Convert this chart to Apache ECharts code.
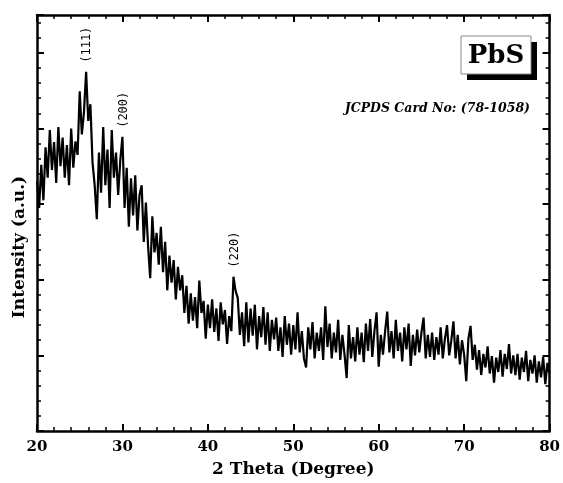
<!DOCTYPE html>
<html>
<head>
<meta charset="utf-8">
<script src="https://cdn.jsdelivr.net/npm/echarts@6/dist/echarts.min.js"></script>
<style>
  html, body { margin: 0; background: #fff; }
  #chart { width: 563px; height: 483px; }
</style>
</head>
<body>
<div id="chart"></div>
<script>
// 2 theta runs from 20 to 80 in 0.25 degree steps
const thetaStart = 20;
const thetaStep = 0.25;

// intensity (a.u.), one row per degree: x.00, x.25, x.50, x.75
const intensity = [
  330, 295, 352, 305, // 20
  375, 335, 398, 345, // 21
  382, 328, 402, 350, // 22
  388, 335, 378, 325, // 23
  400, 348, 383, 365, // 24
  449, 392, 422, 475, // 25
  410, 432, 355, 325, // 26
  280, 368, 315, 402, // 27
  325, 372, 295, 398, // 28
  335, 368, 312, 358, // 29
  389, 295, 348, 270, // 30
  334, 285, 338, 265, // 31
  312, 325, 250, 302, // 32
  245, 202, 284, 236, // 33
  262, 220, 270, 210, // 34
  250, 186, 232, 196, // 35
  226, 174, 217, 186, // 36
  206, 156, 192, 142, // 37
  182, 146, 177, 136, // 38
  199, 156, 172, 122, // 39
  167, 136, 174, 131, // 40
  162, 119, 170, 141, // 41
  160, 115, 152, 132, // 42
  204, 185, 176, 127, // 43
  157, 112, 170, 117, // 44
  162, 126, 167, 108, // 45
  152, 124, 164, 114, // 46
  157, 106, 147, 121, // 47
  150, 106, 137, 98,  // 48
  152, 114, 142, 101, // 49
  140, 108, 157, 104, // 50
  132, 96, 84, 137,   // 51
  108, 144, 96, 130,  // 52
  106, 137, 94, 165,  // 53
  111, 142, 96, 130,  // 54
  104, 147, 94, 127,  // 55
  101, 70, 140, 96,   // 56
  124, 92, 137, 101,  // 57
  130, 91, 142, 106,  // 58
  148, 98, 132, 157,  // 59
  85, 127, 101, 132,  // 60
  158, 104, 132, 96,  // 61
  147, 106, 130, 92,  // 62
  137, 108, 142, 86,  // 63
  127, 100, 134, 104, // 64
  130, 150, 96, 127,  // 65
  98, 130, 94, 124,   // 66
  101, 137, 96, 122,  // 67
  140, 100, 120, 145, // 68
  96, 127, 88, 120,   // 69
  101, 66, 122, 139,  // 70
  94, 114, 81, 107,   // 71
  74, 102, 84, 112,   // 72
  76, 99, 64, 97,     // 73
  78, 107, 72, 102,   // 74
  82, 115, 76, 100,   // 75
  74, 102, 68, 97,    // 76
  78, 106, 66, 94,    // 77
  76, 100, 64, 92,    // 78
  71, 98, 62, 90,     // 79
  76                  // 80
];

const peakLabels = ['(111)', '(200)', '(220)'];
const peakTheta = [25.75, 30, 43];

const serif = 'DejaVu Serif';
const chart = echarts.init(document.getElementById('chart'));

const frameAxis = {
  axisLine: { show: true, onZero: false, lineStyle: { color: '#000', width: 2.5 } },
  axisTick: { show: true, inside: true, length: 7, lineStyle: { color: '#000', width: 2 } },
  minorTick: { show: true, splitNumber: 5, length: 4, lineStyle: { color: '#000', width: 1.5 } },
  splitLine: { show: false },
};

const option = {
  animation: false,
  backgroundColor: '#fff',
  grid: { left: 37, right: 12, top: 15, bottom: 51 },
  xAxis: [
    {
      ...frameAxis,
      type: 'value', min: 20, max: 80, interval: 10, position: 'bottom',
      axisLabel: { color: '#000', fontFamily: serif, fontWeight: 'bold', fontSize: 15, margin: 9 },
      name: '2 Theta (Degree)',
      nameLocation: 'middle',
      nameGap: 30,
      nameTextStyle: { color: '#000', fontFamily: serif, fontWeight: 'bold', fontSize: 17 },
    },
    {
      ...frameAxis,
      type: 'value', min: 20, max: 80, interval: 10, position: 'top',
      axisLabel: { show: false },
    },
  ],
  yAxis: [
    {
      ...frameAxis,
      type: 'value', min: 0, max: 550, interval: 100, position: 'left',
      axisLabel: { show: false },
    },
    {
      ...frameAxis,
      type: 'value', min: 0, max: 550, interval: 100, position: 'right',
      axisLabel: { show: false },
    },
  ],
  series: [
    {
      type: 'line',
      showSymbol: false,
      silent: true,
      lineStyle: { color: '#000', width: 2.2 },
      data: intensity.map((v, i) => [thetaStart + i * thetaStep, v]),
    },
  ],
};

chart.setOption(option);

// peak labels sit just above each peak
const peakText = peakLabels.map((label, k) => {
  const idx = Math.round((peakTheta[k] - thetaStart) / thetaStep);
  const p = chart.convertToPixel({ xAxisIndex: 0, yAxisIndex: 0 }, [peakTheta[k], intensity[idx]]);
  return {
    type: 'text',
    x: p[0] + 1,
    y: p[1] - 27,
    rotation: Math.PI / 2,
    style: {
      text: label,
      fill: '#000',
      font: '12px "DejaVu Sans Mono"',
      align: 'center',
      verticalAlign: 'middle',
    },
  };
});

chart.setOption({
  graphic: [
    {
      type: 'text',
      x: 20, y: 247,
      rotation: Math.PI / 2,
      style: {
        text: 'Intensity (a.u.)',
        fill: '#000',
        font: 'bold 17px "DejaVu Serif"',
        align: 'center',
        verticalAlign: 'middle',
      },
    },
    // PbS box with drop shadow
    { type: 'rect', shape: { x: 467, y: 42, width: 70, height: 38 }, style: { fill: '#000' } },
    { type: 'rect', shape: { x: 461, y: 36, width: 70, height: 38 }, style: { fill: '#fff', stroke: '#888', lineWidth: 1 } },
    {
      type: 'text',
      x: 496, y: 56,
      style: { text: 'PbS', fill: '#000', font: 'bold 26px "DejaVu Serif"', align: 'center', verticalAlign: 'middle' },
    },
    {
      type: 'text',
      x: 530, y: 109,
      style: { text: 'JCPDS Card No: (78-1058)', fill: '#000', font: 'italic bold 12.5px "DejaVu Serif"', align: 'right', verticalAlign: 'middle' },
    },
    ...peakText,
  ],
});
</script>
</body>
</html>
